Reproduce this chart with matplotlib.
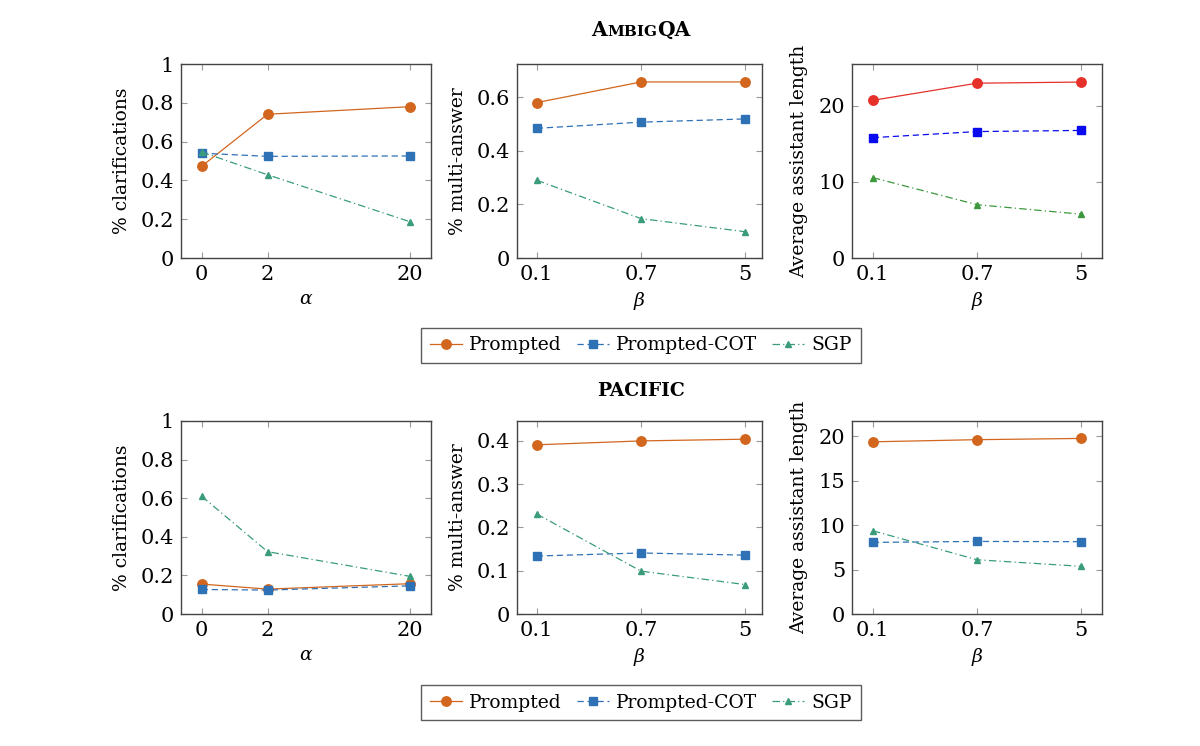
import numpy as np
import matplotlib
matplotlib.use("Agg")
import matplotlib.pyplot as plt
from matplotlib.lines import Line2D

# ---------------- data ----------------
alpha_vals = [0, 2, 20]
beta_labels = ["0.1", "0.7", "5"]
series_names = ["Prompted", "Prompted-COT", "SGP"]

ambig_clar_prompted = [0.473, 0.741, 0.780]
ambig_clar_cot = [0.540, 0.524, 0.526]
ambig_clar_sgp = [0.546, 0.429, 0.187]

ambig_multi_prompted = [0.580, 0.657, 0.657]
ambig_multi_cot = [0.484, 0.507, 0.519]
ambig_multi_sgp = [0.290, 0.147, 0.098]

ambig_len_prompted = [20.7, 22.95, 23.1]
ambig_len_cot = [15.8, 16.6, 16.75]
ambig_len_sgp = [10.55, 7.0, 5.75]

pacific_clar_prompted = [0.155, 0.129, 0.157]
pacific_clar_cot = [0.127, 0.124, 0.146]
pacific_clar_sgp = [0.610, 0.323, 0.195]

pacific_multi_prompted = [0.391, 0.400, 0.404]
pacific_multi_cot = [0.134, 0.141, 0.136]
pacific_multi_sgp = [0.231, 0.099, 0.068]

pacific_len_prompted = [19.36, 19.6, 19.74]
pacific_len_cot = [8.05, 8.16, 8.13]
pacific_len_sgp = [9.36, 6.1, 5.36]

# ---------------- style ----------------
plt.rcParams["font.family"] = ["DejaVu Serif"]
plt.rcParams["mathtext.fontset"] = "dejavuserif"
FS = 13.5
TFS = 15

C_ORANGE = "#d2661e"
C_BLUE = "#2f71b5"
C_TEAL = "#3a9c7c"
C_RED = "#e5312a"
C_PBLUE = "#0a0aee"
C_GREEN = "#3d983d"

pal_default = [C_ORANGE, C_BLUE, C_TEAL]
pal_alt = [C_RED, C_PBLUE, C_GREEN]
styles = [
    dict(linestyle="-", marker="o", markersize=6.8),
    dict(linestyle=(0, (5, 3)), marker="s", markersize=6.3),
    dict(linestyle=(0, (6, 2.5, 1, 2.5)), marker="^", markersize=4.8),
]

fig = plt.figure(figsize=(12, 7.46), dpi=100)

col_left = [181 / 1200, 517 / 1200, 852 / 1200]
col_w = [250 / 1200, 245 / 1200, 250 / 1200]
row_bottom = [1 - 258 / 746, 1 - 614 / 746]
row_h = [194 / 746, 193 / 746]


def fwd(x):
    x = np.asarray(x, dtype=float)
    return np.sign(x) * np.sqrt(np.abs(x))


def inv(y):
    y = np.asarray(y, dtype=float)
    return np.sign(y) * y ** 2


def style_axes(ax):
    for s in ax.spines.values():
        s.set_color("#444444")
        s.set_linewidth(1.0)
    ax.tick_params(direction="in", top=True, right=True, length=4,
                   width=0.8, color="#999999", labelsize=TFS, pad=5)


def draw_panel(ax, xs, series, pal, ylim, yticks, ylabel, xlabel, xticklabels=None):
    for (vals, st, c) in zip(series, styles, pal):
        ax.plot(xs, vals, color=c, linewidth=0.9, markerfacecolor=c,
                markeredgecolor=c, **st)
    ax.set_ylim(*ylim)
    ax.set_yticks(yticks)
    ax.set_yticklabels([("%g" % t) for t in yticks])
    ax.set_ylabel(ylabel, fontsize=FS, labelpad=7)
    ax.set_xlabel(xlabel, fontsize=FS, labelpad=4)
    if xticklabels is not None:
        ax.set_xticks(xs)
        ax.set_xticklabels(xticklabels)
    style_axes(ax)


rows = [
    dict(
        clar=[ambig_clar_prompted, ambig_clar_cot, ambig_clar_sgp],
        multi=[ambig_multi_prompted, ambig_multi_cot, ambig_multi_sgp],
        length=[ambig_len_prompted, ambig_len_cot, ambig_len_sgp],
        multi_ylim=(0, 0.724), multi_ticks=[0, 0.2, 0.4, 0.6],
        len_ylim=(0, 25.47), len_ticks=[0, 10, 20], len_pal=pal_alt,
    ),
    dict(
        clar=[pacific_clar_prompted, pacific_clar_cot, pacific_clar_sgp],
        multi=[pacific_multi_prompted, pacific_multi_cot, pacific_multi_sgp],
        length=[pacific_len_prompted, pacific_len_cot, pacific_len_sgp],
        multi_ylim=(0, 0.446), multi_ticks=[0, 0.1, 0.2, 0.3, 0.4],
        len_ylim=(0, 21.7), len_ticks=[0, 5, 10, 15, 20], len_pal=pal_default,
    ),
]

beta_pos = list(range(len(beta_labels)))

for r, row in enumerate(rows):
    ax1 = fig.add_axes([col_left[0], row_bottom[r], col_w[0], row_h[r]])
    ax1.set_xscale("function", functions=(fwd, inv))
    draw_panel(ax1, alpha_vals, row["clar"], pal_default, (0, 1),
               [0, 0.2, 0.4, 0.6, 0.8, 1], "% clarifications", r"$\alpha$")
    ax1.set_xticks(alpha_vals)
    ax1.set_xticklabels([str(a) for a in alpha_vals])
    ax1.xaxis.set_minor_locator(matplotlib.ticker.NullLocator())
    ax1.set_xlim(-0.444 ** 2, 4.922 ** 2)

    ax2 = fig.add_axes([col_left[1], row_bottom[r], col_w[1], row_h[r]])
    draw_panel(ax2, beta_pos, row["multi"], pal_default, row["multi_ylim"],
               row["multi_ticks"], "% multi-answer", r"$\beta$", beta_labels)
    ax2.set_xlim(-0.19, 2.16)

    ax3 = fig.add_axes([col_left[2], row_bottom[r], col_w[2], row_h[r]])
    draw_panel(ax3, beta_pos, row["length"], row["len_pal"], row["len_ylim"],
               row["len_ticks"], "Average assistant length", r"$\beta$", beta_labels)
    ax3.set_xlim(-0.2, 2.2)

# ---------------- legends ----------------
handles = [Line2D([], [], color=c, linewidth=0.9, markerfacecolor=c,
                  markeredgecolor=c, **st) for c, st in zip(pal_default, styles)]
for yc in [1 - 345.5 / 746, 1 - 702.5 / 746]:
    leg = fig.legend(handles, series_names, loc="center", ncol=3,
                     bbox_to_anchor=(641 / 1200, yc), fontsize=13.5,
                     frameon=True, fancybox=False, handlelength=1.7,
                     columnspacing=0.8, handletextpad=0.4, borderpad=0.45)
    leg.get_frame().set_edgecolor("#333333")
    leg.get_frame().set_linewidth(1.0)

# ---------------- titles ----------------
fig.canvas.draw()
renderer = fig.canvas.get_renderer()


def smallcaps_title(parts, xc, y, size_big, size_small):
    texts = []
    x = 0.0
    for s, small in parts:
        t = fig.text(x, y, s, fontsize=size_small if small else size_big,
                     fontweight="bold", va="baseline", ha="left")
        bb = t.get_window_extent(renderer)
        w = bb.width / fig.bbox.width
        texts.append((t, x))
        x += w
    total = x
    for t, x0 in texts:
        t.set_x(xc - total / 2 + x0)


smallcaps_title([("A", False), ("MBIG", True), ("QA", False)],
                641 / 1200, 1 - 36 / 746, 14.5, 11)
fig.text(641 / 1200, 1 - 396 / 746, "PACIFIC", fontsize=13.5, fontweight="bold",
         ha="center", va="baseline")

fig.savefig("out.png", dpi=100)
